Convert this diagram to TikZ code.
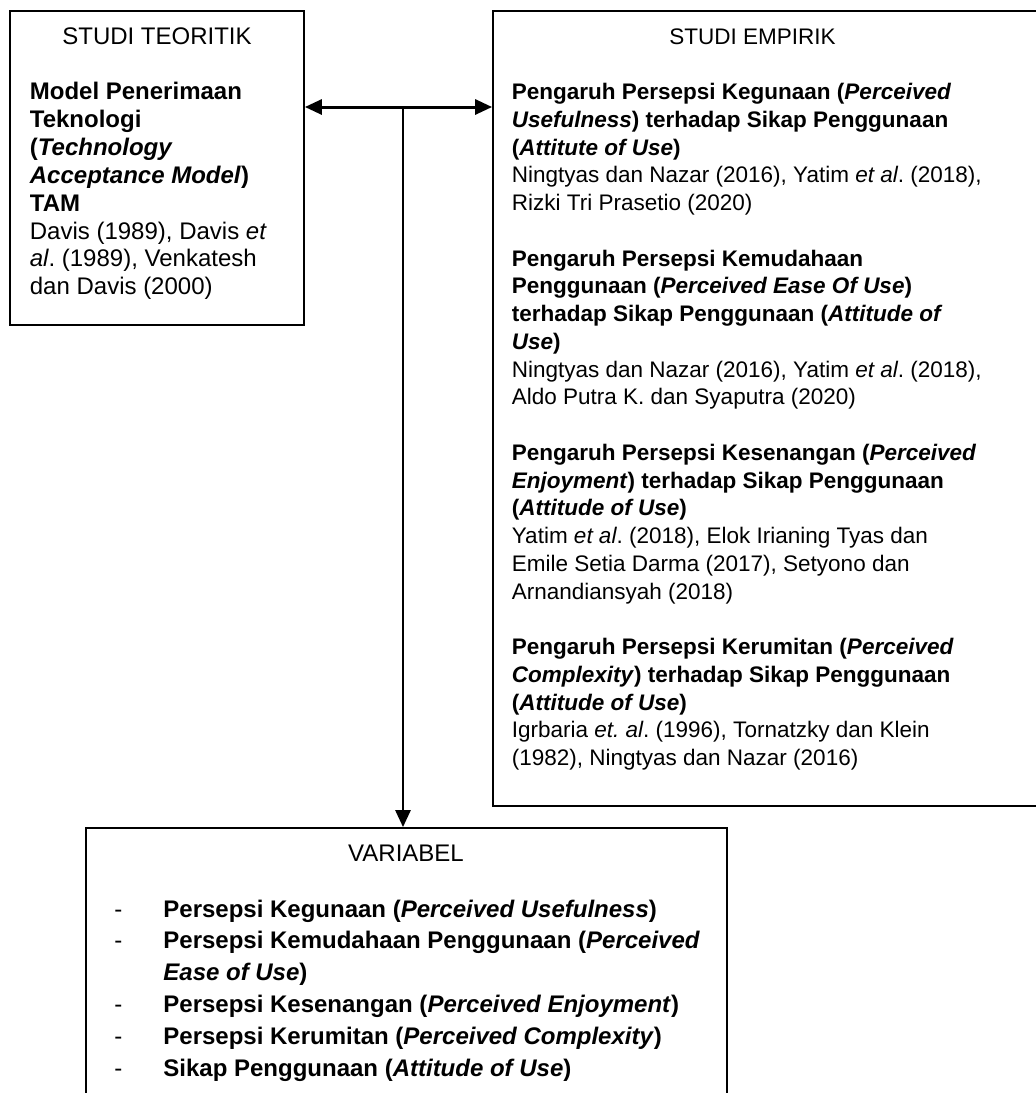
\documentclass[tikz,border=0pt]{standalone}
\usepackage{fontspec}
\setmainfont{Liberation Sans}
\usetikzlibrary{arrows.meta}
\frenchspacing
\begin{document}
\begin{tikzpicture}[x=0.5pt,y=-0.5pt,
  box/.style={draw, line width=0.9pt, rectangle, inner sep=0pt},
  tip/.tip={Triangle[length=8.5pt,width=7.5pt]},
  conn/.style={line width=1.4pt, -tip},
  bothconn/.style={line width=1.5pt, tip-tip},
  txtL/.style={inner sep=0pt, align=left, anchor=base west, font=\fontsize{12}{13.95}\selectfont},
  txtR/.style={inner sep=0pt, align=left, anchor=base west, font=\fontsize{11.25}{13.875}\selectfont},
  txtB/.style={inner sep=0pt, align=left, anchor=base west, font=\fontsize{12}{15.9}\selectfont},
  title/.style={inner sep=0pt, anchor=base}
]
\useasboundingbox (0,0) rectangle (1036,1093);

% boxes
\node[box, minimum width=147pt, minimum height=157pt] (teori) at (157,168) {};
\node[box, minimum width=275pt, minimum height=397.5pt] (empirik) at (768,408.5) {};
\node[box, minimum width=320.5pt, minimum height=136pt] (variabel) at (406.5,964) {};

% titles
\node[title, font=\fontsize{12}{13.95}\selectfont] (tTeori) at (157,44) {STUDI TEORITIK};
\node[title, font=\fontsize{11.25}{13.875}\selectfont] (tEmpirik) at (752.5,44) {STUDI EMPIRIK};
\node[title, font=\fontsize{12}{13.95}\selectfont] (tVariabel) at (406,861.5) {VARIABEL};

% left body (anchored at the baseline of its last line)
\node[txtL] (bTeori) at (29.5,294.8) {\textbf{Model Penerimaan}\\
\textbf{Teknologi}\\
\textbf{(\textit{Technology}}\\
\textbf{\textit{Acceptance Model})}\\
\textbf{TAM}\\
Davis (1989), Davis \textit{et}\\
\textit{al}. (1989), Venkatesh\\
dan Davis (2000)};

% right body (anchored at the baseline of its last line)
\node[txtR] (bEmpirik) at (511.5,765.5) {\textbf{Pengaruh Persepsi Kegunaan (\textit{Perceived}}\\
\textbf{\textit{Usefulness}) terhadap Sikap Penggunaan}\\
\textbf{(\textit{Attitute of Use})}\\
Ningtyas dan Nazar (2016), Yatim \textit{et al}. (2018),\\
Rizki Tri Prasetio (2020)\\[13.875pt]
\textbf{Pengaruh Persepsi Kemudahaan}\\
\textbf{Penggunaan (\textit{Perceived Ease Of Use})}\\
\textbf{terhadap Sikap Penggunaan (\textit{Attitude of}}\\
\textbf{\textit{Use})}\\
Ningtyas dan Nazar (2016), Yatim \textit{et al}. (2018),\\
Aldo Putra K. dan Syaputra (2020)\\[13.875pt]
\textbf{Pengaruh Persepsi Kesenangan (\textit{Perceived}}\\
\textbf{\textit{Enjoyment}) terhadap Sikap Penggunaan}\\
\textbf{(\textit{Attitude of Use})}\\
Yatim \textit{et al}. (2018), Elok Irianing Tyas dan\\
Emile Setia Darma (2017), Setyono dan\\
Arnandiansyah (2018)\\[13.875pt]
\textbf{Pengaruh Persepsi Kerumitan (\textit{Perceived}}\\
\textbf{\textit{Complexity}) terhadap Sikap Penggunaan}\\
\textbf{(\textit{Attitude of Use})}\\
Igrbaria \textit{et. al}. (1996), Tornatzky dan Klein\\
(1982), Ningtyas dan Nazar (2016)};

% bottom list (anchored at the baseline of its last line)
\node[txtB] (bVariabel) at (114,1076) {\makebox[24.5pt][l]{-}\textbf{Persepsi Kegunaan (\textit{Perceived Usefulness})}\\
\makebox[24.5pt][l]{-}\textbf{Persepsi Kemudahaan Penggunaan (\textit{Perceived}}\\
\hspace*{24.5pt}\textbf{\textit{Ease of Use})}\\
\makebox[24.5pt][l]{-}\textbf{Persepsi Kesenangan (\textit{Perceived Enjoyment})}\\
\makebox[24.5pt][l]{-}\textbf{Persepsi Kerumitan (\textit{Perceived Complexity})}\\
\makebox[24.5pt][l]{-}\textbf{Sikap Penggunaan (\textit{Attitude of Use})}};

% connectors
\coordinate (j) at (403,107);
\draw[bothconn] (teori.east |- j) -- (empirik.west |- j);
\draw[conn] (j) -- (j |- variabel.north);
\end{tikzpicture}
\end{document}
